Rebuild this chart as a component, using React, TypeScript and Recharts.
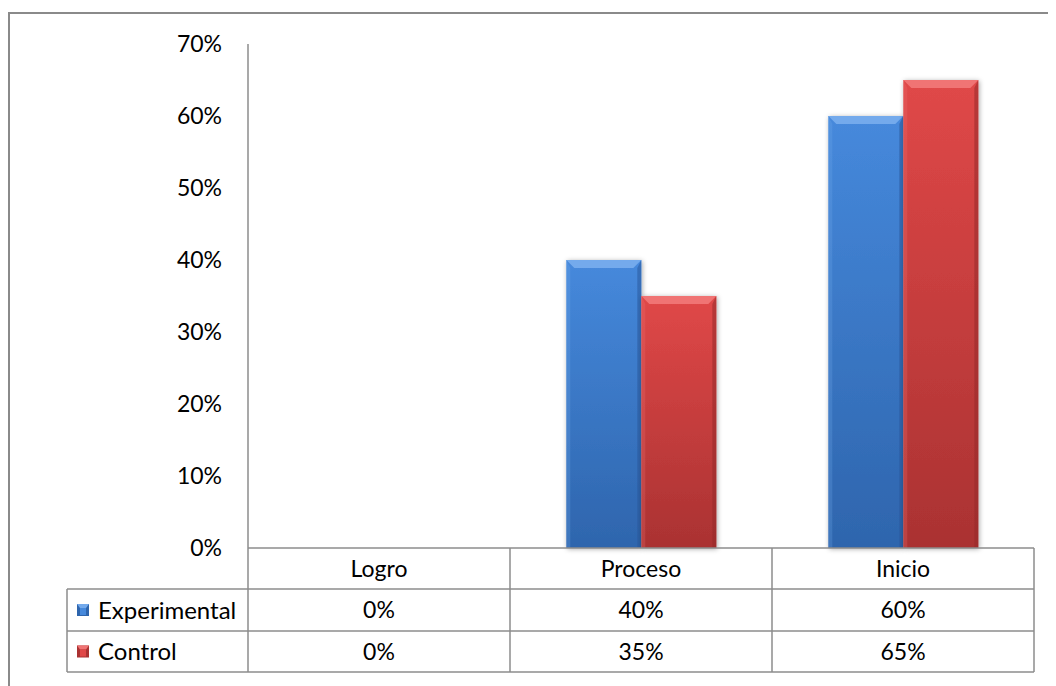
import React from 'react';
import { BarChart, Bar, XAxis, YAxis } from 'recharts';

const categories = ['Logro', 'Proceso', 'Inicio'];
const experimental = [0, 40, 60];
const control = [0, 35, 65];
const seriesNames = ['Experimental', 'Control'];
const yTicks = [0, 10, 20, 30, 40, 50, 60, 70];

const data = categories.map((c, i) => ({
  name: c,
  experimental: experimental[i],
  control: control[i],
}));

const CHART_W = 1048;
const CHART_H = 678;
const MARGIN = { top: 36, right: 22, bottom: 14, left: 0 };
const Y_AXIS_W = 240;
const CELL_W = (CHART_W - MARGIN.right - MARGIN.left - Y_AXIS_W) / categories.length;
const ROW_H = [41, 42, 41];
const LEGEND_W = 181;
const LINE = '#8c8c8c';
const FONT = 'Lato, "Open Sans", sans-serif';
const FS = 23;

const palette: Record<string, { top: string; bottom: string; light: string; dark: string }> = {
  experimental: { top: '#4689dc', bottom: '#2e65ad', light: '#74aaec', dark: '#2a5a9c' },
  control: { top: '#e04848', bottom: '#aa3232', light: '#f07474', dark: '#962a2a' },
};

const BevelBar = (props: any) => {
  const { x, y, width, height, dataKey } = props;
  if (!height || height <= 0) return null;
  const c = palette[dataKey];
  const b = 8;
  return (
    <g>
      <rect x={x} y={y} width={width} height={height} fill={`url(#grad-${dataKey})`} filter="url(#barShadow)" />
      <polygon
        points={`${x},${y} ${x + width},${y} ${x + width - b},${y + b} ${x + b},${y + b}`}
        fill={c.light}
      />
      <polygon
        points={`${x + width},${y} ${x + width},${y + height} ${x + width - 4},${y + height} ${x + width - 4},${y + b}`}
        fill={c.dark}
        opacity={0.55}
      />
      <polygon
        points={`${x},${y} ${x + 4},${y + b} ${x + 4},${y + height} ${x},${y + height}`}
        fill={c.light}
        opacity={0.25}
      />
    </g>
  );
};

const Marker = ({ x, y, k }: { x: number; y: number; k: string }) => {
  const c = palette[k];
  const s = 12;
  return (
    <g>
      <rect x={x} y={y} width={s} height={s} fill={c.bottom} />
      <polygon points={`${x},${y} ${x + s},${y} ${x + s - 3},${y + 4} ${x + 3},${y + 4}`} fill={c.light} />
      <rect x={x + 3} y={y + 4} width={s - 6} height={s - 5} fill={c.top} />
    </g>
  );
};

const TableTick = (props: any) => {
  const { x, y, payload, index } = props;
  const half = CELL_W / 2;
  const r1 = y + ROW_H[0];
  const r2 = r1 + ROW_H[1];
  const r3 = r2 + ROW_H[2];
  const vals = [experimental[index], control[index]];
  const textProps = { fontFamily: FONT, fontSize: FS, fill: '#000', textAnchor: 'middle' as const };
  const legLeft = x - half - LEGEND_W;
  return (
    <g>
      <text x={x} y={y + ROW_H[0] / 2} dy="0.36em" {...textProps}>
        {payload.value}
      </text>
      <text x={x} y={r1 + ROW_H[1] / 2} dy="0.36em" {...textProps}>
        {vals[0]}%
      </text>
      <text x={x} y={r2 + ROW_H[2] / 2} dy="0.36em" {...textProps}>
        {vals[1]}%
      </text>
      <line x1={x + half} x2={x + half} y1={y} y2={r3} stroke={LINE} strokeWidth={1.5} />
      <line x1={x - half} x2={x + half} y1={r1} y2={r1} stroke={LINE} strokeWidth={1.5} />
      <line x1={x - half} x2={x + half} y1={r2} y2={r2} stroke={LINE} strokeWidth={1.5} />
      <line x1={x - half} x2={x + half} y1={r3} y2={r3} stroke={LINE} strokeWidth={1.5} />
      {index === 0 && (
        <g>
          <line x1={x - half} x2={x - half} y1={y} y2={r3} stroke={LINE} strokeWidth={1.5} />
          <line x1={legLeft} x2={x - half} y1={r1} y2={r1} stroke={LINE} strokeWidth={1.5} />
          <line x1={legLeft} x2={x - half} y1={r2} y2={r2} stroke={LINE} strokeWidth={1.5} />
          <line x1={legLeft} x2={x - half} y1={r3} y2={r3} stroke={LINE} strokeWidth={1.5} />
          <line x1={legLeft} x2={legLeft} y1={r1} y2={r3} stroke={LINE} strokeWidth={1.5} />
          {seriesNames.map((n, i) => {
            const top = i === 0 ? r1 : r2;
            const h = ROW_H[i + 1];
            return (
              <g key={n}>
                <Marker x={legLeft + 10} y={top + h / 2 - 6} k={i === 0 ? 'experimental' : 'control'} />
                <text x={legLeft + 31} y={top + h / 2} dy="0.36em" fontFamily={FONT} fontSize={24} fill="#000">
                  {n}
                </text>
              </g>
            );
          })}
        </g>
      )}
    </g>
  );
};

export default function App() {
  return (
    <div style={{ position: 'relative', width: CHART_W, height: CHART_H, background: '#fff' }}>
      <div
        style={{
          position: 'absolute',
          left: 0,
          top: 4,
          width: CHART_W,
          height: CHART_H - 4,
          borderTop: '2px solid #8a8a8a',
          borderLeft: '2px solid #8a8a8a',
          boxSizing: 'border-box',
        }}
      />
      <div style={{ position: 'absolute', left: 0, top: 0 }}>
        <BarChart
          width={CHART_W}
          height={CHART_H}
          data={data}
          margin={MARGIN}
          barCategoryGap="21.5%"
          barGap={0}
        >
          <defs>
            {Object.keys(palette).map((k) => (
              <linearGradient key={k} id={`grad-${k}`} x1="0" y1="0" x2="0" y2="1">
                <stop offset="0%" stopColor={palette[k].top} />
                <stop offset="100%" stopColor={palette[k].bottom} />
              </linearGradient>
            ))}
            <filter id="barShadow" x="-20%" y="-10%" width="140%" height="120%">
              <feDropShadow dx="1" dy="1" stdDeviation="2.5" floodColor="#000" floodOpacity="0.35" />
            </filter>
          </defs>
          <YAxis
            width={Y_AXIS_W}
            domain={[0, 70]}
            ticks={yTicks}
            tickFormatter={(v: number) => `${v}%`}
            tickLine={false}
            tickSize={0}
            tickMargin={26}
            axisLine={{ stroke: LINE, strokeWidth: 1.5 }}
            tick={{ fontFamily: FONT, fontSize: FS, fill: '#000' }}
            interval={0}
          />
          <XAxis
            dataKey="name"
            height={124}
            tickLine={false}
            tickSize={0}
            tickMargin={0}
            axisLine={{ stroke: LINE, strokeWidth: 1.5 }}
            tick={<TableTick />}
            interval={0}
          />
          <Bar dataKey="experimental" name="Experimental" shape={<BevelBar />} isAnimationActive={false} />
          <Bar dataKey="control" name="Control" shape={<BevelBar />} isAnimationActive={false} />
        </BarChart>
      </div>
    </div>
  );
}
